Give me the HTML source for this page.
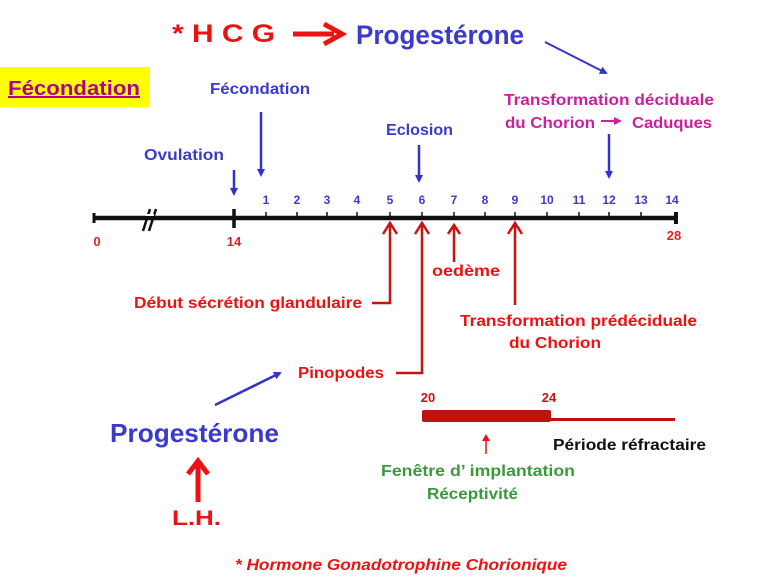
<!DOCTYPE html>
<html><head><meta charset="utf-8"><style>html,body{margin:0;padding:0;background:#fff}svg{display:block}</style></head>
<body>
<svg width="759" height="577" viewBox="0 0 759 577" xmlns="http://www.w3.org/2000/svg" font-family="Liberation Sans, sans-serif" font-weight="bold">
<defs>
<marker id="bh" markerWidth="8" markerHeight="8" refX="6" refY="4" orient="auto" markerUnits="userSpaceOnUse"><path d="M0,0 L8,4 L0,8 z" fill="#3333cc"/></marker>
</defs>
<!-- top -->
<text x="172" y="42" font-size="25" fill="#ee1111" textLength="103" lengthAdjust="spacingAndGlyphs">* H  C  G</text>
<line x1="293" y1="34" x2="334" y2="34" stroke="#ee1111" stroke-width="5"/>
<path d="M324,24 L342,34 L324,44" fill="none" stroke="#ee1111" stroke-width="5"/>
<text x="356" y="44" font-size="27" fill="#3a3acc" textLength="168" lengthAdjust="spacingAndGlyphs">Progestérone</text>
<line x1="545" y1="42" x2="606" y2="73" stroke="#3333cc" stroke-width="2" marker-end="url(#bh)"/>
<rect x="0" y="67" width="150" height="40" fill="#ffff00"/>
<text x="8" y="95" font-size="20" fill="#b0008a" text-decoration="underline" textLength="132" lengthAdjust="spacingAndGlyphs">Fécondation</text>
<text x="210" y="94" font-size="16" fill="#3a3acc" textLength="100" lengthAdjust="spacingAndGlyphs">Fécondation</text>
<line x1="261" y1="112" x2="261" y2="175" stroke="#3333cc" stroke-width="2.5" marker-end="url(#bh)"/>
<text x="144" y="160" font-size="16" fill="#3a3acc" textLength="80" lengthAdjust="spacingAndGlyphs">Ovulation</text>
<line x1="234" y1="170" x2="234" y2="194" stroke="#3333cc" stroke-width="2.5" marker-end="url(#bh)"/>
<text x="386" y="135" font-size="16" fill="#3a3acc" textLength="67" lengthAdjust="spacingAndGlyphs">Eclosion</text>
<line x1="419" y1="145" x2="419" y2="181" stroke="#3333cc" stroke-width="2.5" marker-end="url(#bh)"/>
<text x="504" y="105" font-size="16" fill="#cc1fa0" textLength="210" lengthAdjust="spacingAndGlyphs">Transformation déciduale</text>
<text x="505" y="128" font-size="16" fill="#cc1fa0" textLength="90" lengthAdjust="spacingAndGlyphs">du Chorion</text>
<line x1="601" y1="121" x2="616" y2="121" stroke="#cc1fa0" stroke-width="2"/>
<path d="M614,117 L622,121 L614,125z" fill="#cc1fa0"/>
<text x="632" y="128" font-size="16" fill="#cc1fa0" textLength="80" lengthAdjust="spacingAndGlyphs">Caduques</text>
<line x1="609" y1="134" x2="609" y2="177" stroke="#3333cc" stroke-width="2.5" marker-end="url(#bh)"/>
<!-- timeline -->
<line x1="94" y1="218" x2="676" y2="218" stroke="#111" stroke-width="4.5"/>
<line x1="94" y1="213" x2="94" y2="223" stroke="#111" stroke-width="3"/>
<line x1="676" y1="212" x2="676" y2="224" stroke="#111" stroke-width="4"/>
<line x1="143" y1="231" x2="150" y2="209" stroke="#111" stroke-width="2.5"/>
<line x1="149" y1="231" x2="156" y2="209" stroke="#111" stroke-width="2.5"/>
<line x1="146" y1="215" x2="154" y2="215" stroke="#fff" stroke-width="2"/>
<line x1="234" y1="209" x2="234" y2="228" stroke="#111" stroke-width="3.5"/>
<g stroke="#111" stroke-width="1.5">
<line x1="266" y1="212" x2="266" y2="218"/><line x1="297" y1="212" x2="297" y2="218"/><line x1="327" y1="212" x2="327" y2="218"/><line x1="357" y1="212" x2="357" y2="218"/><line x1="390" y1="212" x2="390" y2="218"/><line x1="422" y1="212" x2="422" y2="218"/><line x1="454" y1="212" x2="454" y2="218"/><line x1="485" y1="212" x2="485" y2="218"/><line x1="515" y1="212" x2="515" y2="218"/><line x1="547" y1="212" x2="547" y2="218"/><line x1="579" y1="212" x2="579" y2="218"/><line x1="609" y1="212" x2="609" y2="218"/><line x1="641" y1="212" x2="641" y2="218"/>
</g>
<g font-size="12" fill="#3a3acc" text-anchor="middle">
<text x="266" y="204">1</text><text x="297" y="204">2</text><text x="327" y="204">3</text><text x="357" y="204">4</text><text x="390" y="204">5</text><text x="422" y="204">6</text><text x="454" y="204">7</text><text x="485" y="204">8</text><text x="515" y="204">9</text><text x="547" y="204">10</text><text x="579" y="204">11</text><text x="609" y="204">12</text><text x="641" y="204">13</text><text x="672" y="204">14</text>
</g>
<g font-size="13" fill="#dd2222" text-anchor="middle">
<text x="97" y="246">0</text><text x="234" y="246">14</text><text x="674" y="240">28</text>
</g>
<!-- red arrows -->
<g stroke="#cc1111" stroke-width="2.5" fill="none">
<path d="M372,303 L390,303 L390,224"/><path d="M383,234 L390,223 L397,234"/>
<path d="M396,373 L422,373 L422,224"/><path d="M415,234 L422,223 L429,234"/>
<path d="M454,262 L454,225"/><path d="M448,234 L454,225 L460,234"/>
<path d="M515,305 L515,224"/><path d="M508,234 L515,223 L522,234"/>
</g>
<text x="432" y="276" font-size="16" fill="#ee1111" textLength="68" lengthAdjust="spacingAndGlyphs">oedème</text>
<text x="134" y="308" font-size="16" fill="#ee1111" textLength="228" lengthAdjust="spacingAndGlyphs">Début sécrétion glandulaire</text>
<text x="460" y="326" font-size="16" fill="#ee1111" textLength="237" lengthAdjust="spacingAndGlyphs">Transformation prédéciduale</text>
<text x="509" y="348" font-size="16" fill="#ee1111" textLength="92" lengthAdjust="spacingAndGlyphs">du Chorion</text>
<text x="298" y="378" font-size="16" fill="#ee1111" textLength="86" lengthAdjust="spacingAndGlyphs">Pinopodes</text>
<line x1="215" y1="405" x2="280" y2="373" stroke="#3333cc" stroke-width="2.5" marker-end="url(#bh)"/>
<text x="110" y="442" font-size="26" fill="#3a3acc" textLength="169" lengthAdjust="spacingAndGlyphs">Progestérone</text>
<line x1="198" y1="502" x2="198" y2="464" stroke="#ee1111" stroke-width="5"/>
<path d="M188,474 L198,461 L208,474" fill="none" stroke="#ee1111" stroke-width="5"/>
<text x="172" y="525" font-size="21" fill="#ee1111" textLength="49" lengthAdjust="spacingAndGlyphs">L.H.</text>
<!-- window -->
<text x="428" y="402" font-size="13" fill="#cc1111" text-anchor="middle">20</text>
<text x="549" y="402" font-size="13" fill="#cc1111" text-anchor="middle">24</text>
<rect x="422" y="410" width="129" height="12" fill="#c01010" rx="2"/>
<line x1="551" y1="419.5" x2="675" y2="419.5" stroke="#c01010" stroke-width="3"/>
<line x1="486" y1="454" x2="486" y2="438" stroke="#ee1111" stroke-width="1.5"/>
<path d="M482,441 L486,434 L490,441z" fill="#ee1111"/>
<text x="553" y="450" font-size="16" fill="#111" textLength="153" lengthAdjust="spacingAndGlyphs">Période réfractaire</text>
<text x="381" y="476" font-size="16" fill="#3a9a3a" textLength="194" lengthAdjust="spacingAndGlyphs">Fenêtre d’ implantation</text>
<text x="427" y="499" font-size="16" fill="#3a9a3a" textLength="91" lengthAdjust="spacingAndGlyphs">Réceptivité</text>
<text x="235" y="570" font-size="16" font-style="italic" fill="#ee1111" textLength="332" lengthAdjust="spacingAndGlyphs">* Hormone Gonadotrophine Chorionique</text>
</svg>
</body></html>
